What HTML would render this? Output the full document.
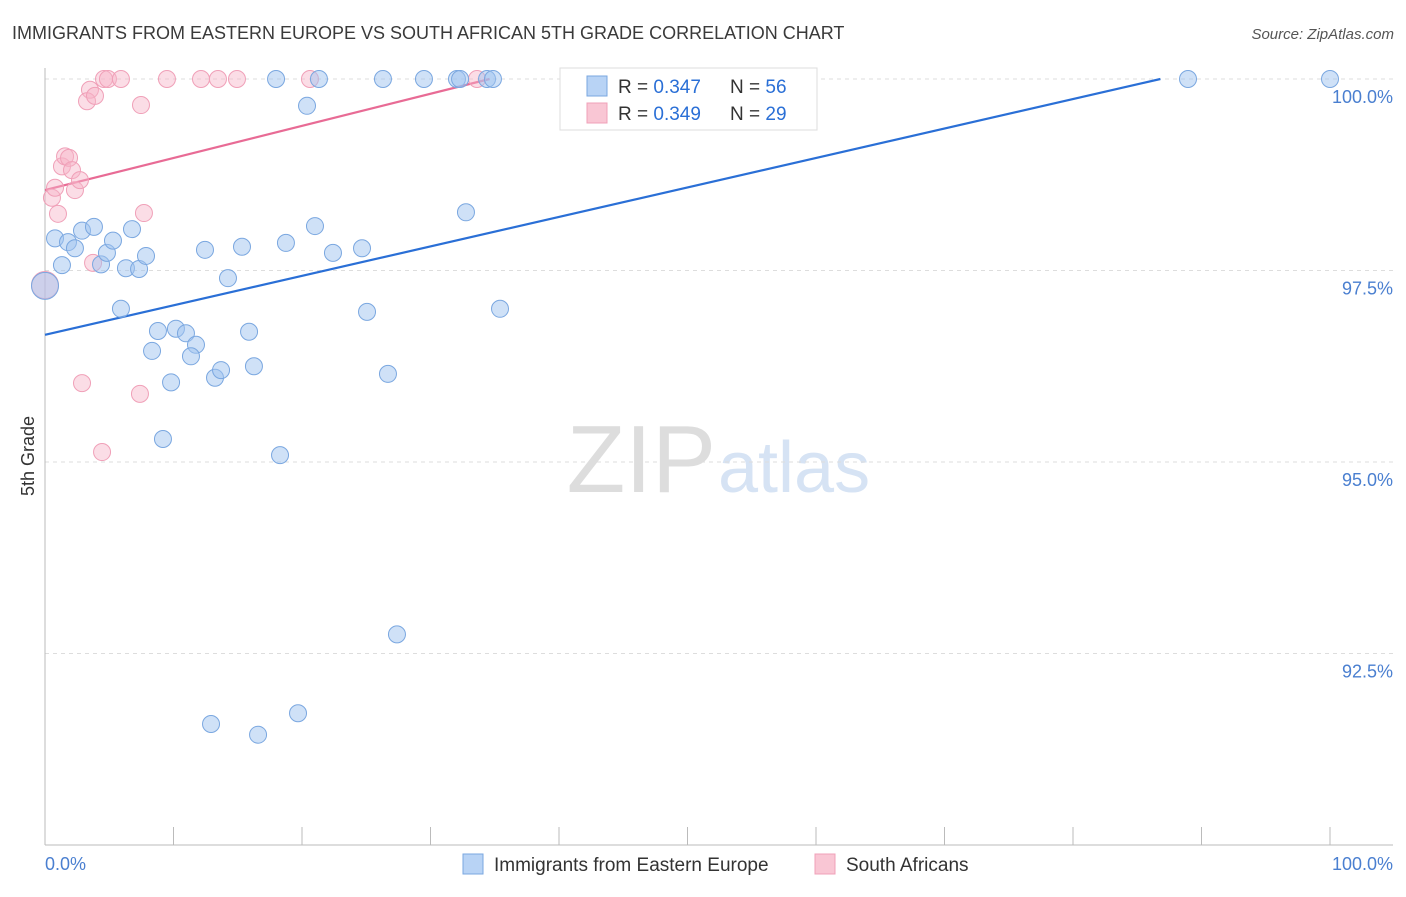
<!DOCTYPE html>
<html><head><meta charset="utf-8"><style>
body{margin:0;background:#fff;font-family:"Liberation Sans",sans-serif;}
svg text{font-family:"Liberation Sans",sans-serif;}
</style></head><body>
<svg width="1406" height="892" xmlns="http://www.w3.org/2000/svg">
<text x="12" y="39" font-size="18" fill="#3a3a3a">IMMIGRANTS FROM EASTERN EUROPE VS SOUTH AFRICAN 5TH GRADE CORRELATION CHART</text>
<text x="1394" y="39" font-size="15" fill="#555" font-style="italic" text-anchor="end">Source: ZipAtlas.com</text>
<text x="34" y="456" font-size="18" fill="#333" transform="rotate(-90 34 456)" text-anchor="middle">5th Grade</text>
<text x="716" y="492" font-size="96" fill="#ddd" text-anchor="end" font-family="Liberation Serif">ZIP</text>
<text x="718" y="492" font-size="72" fill="#d6e3f4">atlas</text>
<g id="grid"></g><g id="axes"></g><g id="lines"></g><g id="pts"></g>
<g>
<rect x="560" y="68" width="257" height="62" fill="#fff" stroke="#ddd"/>
<rect x="587" y="76" width="20" height="20" fill="#b8d3f5" stroke="#7aa7e0"/>
<text x="618" y="93" font-size="19" fill="#333">R = <tspan fill="#2a6fd6">0.347</tspan></text>
<text x="730" y="93" font-size="19" fill="#333">N = <tspan fill="#2a6fd6">56</tspan></text>
<rect x="587" y="103" width="20" height="20" fill="#f9c6d4" stroke="#f0a0b8"/>
<text x="618" y="120" font-size="19" fill="#333">R = <tspan fill="#2a6fd6">0.349</tspan></text>
<text x="730" y="120" font-size="19" fill="#333">N = <tspan fill="#2a6fd6">29</tspan></text>
</g>
<g>
<rect x="463" y="854" width="20" height="20" fill="#b8d3f5" stroke="#7aa7e0"/>
<text x="494" y="871" font-size="19" fill="#333">Immigrants from Eastern Europe</text>
<rect x="815" y="854" width="20" height="20" fill="#f9c6d4" stroke="#f0a0b8"/>
<text x="846" y="871" font-size="19" fill="#333">South Africans</text>
</g>
</svg>
<script>
const yTicks=[100,97.5,95,92.5];
const yTickLabels=["100.0%","97.5%","95.0%","92.5%"];
const xTickLabels=["0.0%","100.0%"];
const blueX=[0.78,1.32,1.79,2.33,2.88,3.81,4.36,4.82,5.29,6.30,6.77,7.32,7.86,5.91,8.79,8.33,10.19,10.97,11.75,11.36,9.81,13.23,13.70,9.18,12.45,14.24,15.33,15.88,16.26,18.75,18.29,21.01,22.41,24.67,25.06,26.69,32.76,35.41,27.39,12.92,16.58,19.69,17.98,21.32,20.39,26.30,29.49,32.06,32.30,34.40,34.86,88.95,100,0];
const blueY=[97.92,97.57,97.87,97.79,98.02,98.07,97.58,97.73,97.89,97.53,98.04,97.52,97.69,97.00,96.71,96.45,96.74,96.68,96.53,96.38,96.04,96.10,96.20,95.30,97.77,97.40,97.81,96.70,96.25,97.86,95.09,98.08,97.73,97.79,96.96,96.15,98.26,97.00,92.75,91.58,91.44,91.72,100,100,99.65,100,100,100,100,100,100,100,100,97.30];
const pinkX=[0,0.54,0.78,1.01,1.32,1.56,1.87,2.10,2.33,2.72,3.50,3.27,3.89,4.59,4.90,5.91,9.49,12.14,13.46,14.94,20.62,33.62,7.47,7.70,3.74,2.88,7.39,4.44,54.7];
const pinkY=[97.31,98.45,98.58,98.24,98.86,98.99,98.97,98.81,98.55,98.68,99.86,99.71,99.78,100,100,100,100,100,100,100,100,100,99.66,98.25,97.60,96.03,95.89,95.13,100];
const blueLine=[[0,96.66],[86.8,100]];
const pinkLine=[[0,98.55],[34.6,100]];
const NS="http://www.w3.org/2000/svg";
const X=v=>45+v*12.85, Y=v=>79+(100-v)*76.6;
function mk(t,a,p){const e=document.createElementNS(NS,t);for(const k in a)e.setAttribute(k,a[k]);p.appendChild(e);return e;}
const grid=document.getElementById('grid'),axes=document.getElementById('axes');
yTicks.forEach((t,i)=>{
 const l=mk('line',{x1:45,x2:1393,y1:Y(t),y2:Y(t),stroke:'#ddd','stroke-dasharray':'4 4'},grid);
 
 
 const tx=mk('text',{x:1393,y:Y(t)+24,'font-size':18,fill:'#4a7fd0','text-anchor':'end'},axes);
 tx.textContent=yTickLabels[i];
 
 
});
mk('line',{x1:45,x2:45,y1:68,y2:845,stroke:'#bbb'},axes);
mk('line',{x1:45,x2:1393,y1:845,y2:845,stroke:'#bbb'},axes);
for(let i=0;i<=10;i++){const t=mk('line',{x1:X(i*10),x2:X(i*10),y1:827,y2:845,stroke:'#bbb'},axes);
 
 }
const xl0=mk('text',{x:45,y:870,'font-size':18,fill:'#4a7fd0'},axes);xl0.textContent=xTickLabels[0];


const xl1=mk('text',{x:1393,y:870,'font-size':18,fill:'#4a7fd0','text-anchor':'end'},axes);xl1.textContent=xTickLabels[1];


const pts=document.getElementById('pts'),lines=document.getElementById('lines');
function dots(xs,ys,fill,stroke,name){xs.forEach((x,i)=>{const r=(x===0)?13.5:8.5;
 const c=mk('circle',{cx:X(x),cy:Y(ys[i]),r:r,fill:fill,stroke:stroke,'stroke-width':1},pts);
 
 });}
dots(pinkX,pinkY,'rgba(246,180,200,0.45)','#f0a0b8','point-south-africans');
dots(blueX,blueY,'rgba(160,196,240,0.5)','#7aa7e0','point-eastern-europe');
const bl=mk('line',{x1:X(blueLine[0][0]),y1:Y(blueLine[0][1]),x2:X(blueLine[1][0]),y2:Y(blueLine[1][1]),stroke:'#2a6fd6','stroke-width':2.2},lines);


const pl=mk('line',{x1:X(pinkLine[0][0]),y1:Y(pinkLine[0][1]),x2:X(pinkLine[1][0]),y2:Y(pinkLine[1][1]),stroke:'#e86b95','stroke-width':2.2},lines);


</script>
</body></html>
